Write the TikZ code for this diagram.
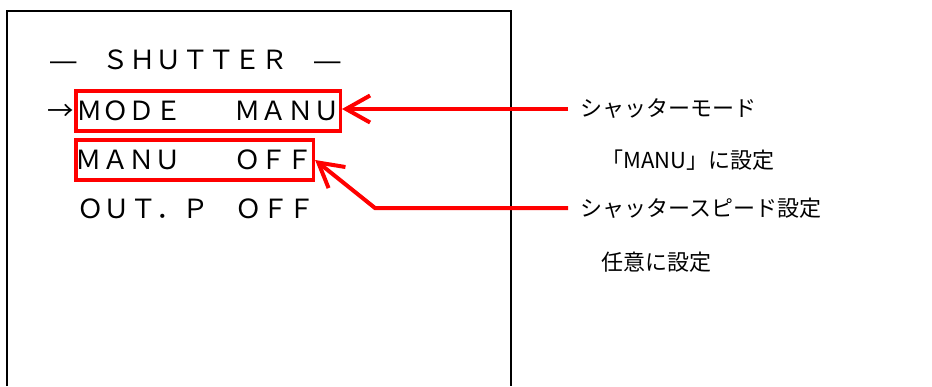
\documentclass[tikz,border=0pt]{standalone}
\usepackage{fontspec}
\newfontfamily\jpfont{Noto Sans CJK JP}
\newfontfamily\dashfont{Liberation Sans}
\usetikzlibrary{positioning,arrows.meta}

\begin{document}
\begin{tikzpicture}[x=1pt, y=-1pt,
    osd/.style = {font=\jpfont\fontsize{26.4}{30}\selectfont, inner sep=0pt, anchor=base west, text height=19.5pt, text depth=0pt},
    hilite/.style = {osd, draw=red, line width=3.5pt, minimum height=40pt},
    note/.style = {font=\jpfont\fontsize{22}{26}\selectfont, anchor=west, inner sep=0pt},
    callout/.style = {draw=red, line width=4pt, -{Straight Barb[length=24pt, width=27pt]}}]
    \useasboundingbox (0,0) rectangle (932,386);
    % monitor frame, open at the bottom
    \draw[line width=2pt] (7,386) -- (7,11) -- (511,11) -- (511,386);

    \node[osd] (title) at (50,69) {{\dashfont —}　ＳＨＵＴＴＥＲ　{\dashfont —}};
    \node[hilite, minimum width=264.5pt] (mode) at (74,120.75) {ＭＯＤＥ　　ＭＡＮＵ};
    \node[osd] (cursor) [left=0pt of mode.base west, anchor=base east] {→};
    \node[hilite, minimum width=235pt] (manu) at (74,169.75) {ＭＡＮＵ　　ＯＦＦ};
    \node[osd] (outp) at (77,218) {ＯＵＴ．Ｐ　ＯＦＦ};

    \node[note] (modenote) at (580,109) {シャッターモード};
    \node[note] (modevalue) at (601,160) {「MANU」に設定};
    \node[note] (speednote) at (580,208) {シャッタースピード設定};
    \node[note] (speedvalue) at (601,262) {任意に設定};
    \coordinate (knee) at (375,208);

    \draw[callout, shorten <=12pt] (modenote.west) -- (modenote.west -| mode.east);
    \draw[callout, shorten <=12pt] (speednote.west) -- (knee) -- (manu.east);
\end{tikzpicture}
\end{document}
